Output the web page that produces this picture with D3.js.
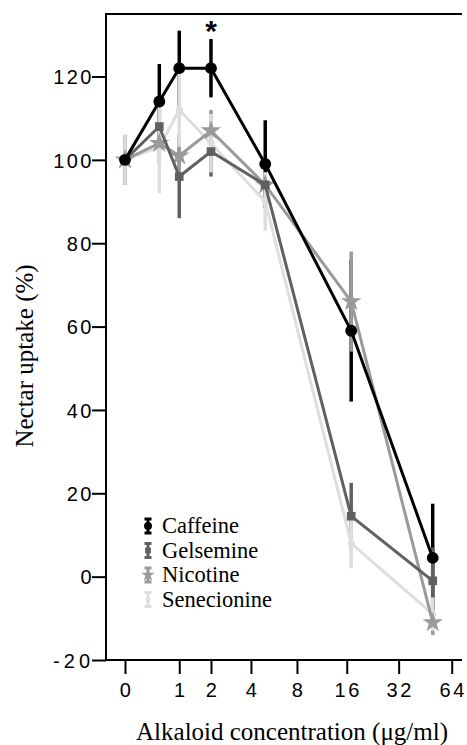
<!DOCTYPE html>
<html>
<head>
<meta charset="utf-8">
<script src="https://cdn.jsdelivr.net/npm/d3@7"></script>
<style>
  body { margin: 0; background: #fff; }
  svg { display: block; }
</style>
</head>
<body>
<div id="content"></div>
<script>
// concentrations (µg/ml) at which uptake was measured
const concentrations = [0, 0.55, 1, 2, 5, 17, 50];
const xTicks = [0, 1, 2, 4, 8, 16, 32, 64];
const yTicks = [-20, 0, 20, 40, 60, 80, 100, 120];

const seriesNames = ['Caffeine', 'Gelsemine', 'Nicotine', 'Senecionine'];
const caffeine = [100, 114, 122, 122, 99, 59, 4.5];
const caffeineErr = [5, 9, 9, 7, 10.5, 17, 13];
const gelsemine = [100, 108, 96, 102, 94, 14.5, -1];
const gelsemineErr = [6, 6, 10, 6, 3, 8, 8];
const nicotine = [100, 104, 101, 107, 94, 66, -11];
const nicotineErr = [5, 5, 5, 5, 3, 12, 3];
const senecionine = [100, 103, 112, 104, 90, 8, -9];
const senecionineErr = [6, 11, 9, 7, 7, 6, 4];

const width = 467;
const height = 745;
const margin = { left: 106, top: 14, right: 462, bottom: 660 };

const colors = ['#000000', '#606060', '#9a9a9a', '#dedede'];
const symbols = [d3.symbolCircle, d3.symbolSquare, d3.symbolStar, d3.symbolDiamond];
const symbolSizes = [110, 75, 130, 55];

const series = seriesNames.map((name, i) => ({
    name,
    color: colors[i],
    symbol: symbols[i],
    size: symbolSizes[i],
    points: concentrations.map((c, j) => ({
        c,
        v: [caffeine, gelsemine, nicotine, senecionine][i][j],
        e: [caffeineErr, gelsemineErr, nicotineErr, senecionineErr][i][j],
    })),
}));

const x = d3.scaleSymlog().constant(1).domain([0, 64]).range([125, 451.7]);
const y = d3.scaleLinear().domain([-20, 135]).range([margin.bottom, margin.top]);

const svg = d3.select('#content').append('svg')
    .attr('width', width)
    .attr('height', height);

// frame: left, top and bottom lines
svg.append('path')
    .attr('d', `M${margin.right},${margin.top}H${margin.left}V${margin.bottom}H${margin.right}`)
    .attr('fill', 'none')
    .attr('stroke', '#000')
    .attr('stroke-width', 2);

const tickFont = g => g
    .style('font-family', '"Liberation Sans", Arial, sans-serif')
    .style('font-size', '20px')
    .style('letter-spacing', '2.5px');

// plain hyphen for negatives, as in the original
const plain = d => String(d);

const yAxis = svg.append('g')
    .attr('transform', `translate(${margin.left},0)`)
    .call(d3.axisLeft(y).tickValues(yTicks).tickFormat(plain).tickSize(14).tickSizeOuter(0).tickPadding(0))
    .call(g => g.select('.domain').remove())
    .call(tickFont);
yAxis.selectAll('line').attr('stroke-width', 2);
yAxis.selectAll('text').attr('fill', '#000').attr('dy', '0.36em').attr('dx', '2px')
    .style('letter-spacing', d => d < 0 ? '4px' : '2.5px');

const xAxis = svg.append('g')
    .attr('transform', `translate(0,${margin.bottom})`)
    .call(d3.axisBottom(x).tickValues(xTicks).tickFormat(plain).tickSize(14).tickSizeOuter(0).tickPadding(9))
    .call(g => g.select('.domain').remove())
    .call(tickFont);
xAxis.selectAll('line').attr('stroke-width', 2);
xAxis.selectAll('text').attr('fill', '#000').attr('dx', '1px');

// axis titles
svg.append('text')
    .attr('x', 292)
    .attr('y', 740)
    .attr('text-anchor', 'middle')
    .style('font-family', '"Liberation Serif", "Times New Roman", serif')
    .style('font-size', '25px')
    .text('Alkaloid concentration (μg/ml)');

svg.append('text')
    .attr('transform', 'translate(33,356) rotate(-90)')
    .attr('text-anchor', 'middle')
    .style('font-family', '"Liberation Serif", "Times New Roman", serif')
    .style('font-size', '25px')
    .text('Nectar uptake (%)');

const plot = svg.append('g');

// error bars first, later series on top
series.forEach(s => {
    plot.append('g')
        .selectAll('line')
        .data(s.points)
        .enter()
        .append('line')
        .attr('x1', d => x(d.c))
        .attr('x2', d => x(d.c))
        .attr('y1', d => y(d.v - d.e))
        .attr('y2', d => y(d.v + d.e))
        .attr('stroke', s.color)
        .attr('stroke-width', 3.5);
});

const line = d3.line().x(d => x(d.c)).y(d => y(d.v));

// lines and markers, caffeine drawn last
series.slice().reverse().forEach(s => {
    plot.append('path')
        .datum(s.points)
        .attr('d', line)
        .attr('fill', 'none')
        .attr('stroke', s.color)
        .attr('stroke-width', 3);
    plot.append('g')
        .selectAll('path')
        .data(s.points)
        .enter()
        .append('path')
        .attr('transform', d => `translate(${x(d.c)},${y(d.v)})`)
        .attr('d', d3.symbol().type(s.symbol).size(s.size))
        .attr('fill', s.color);
});

// significance mark over 2 µg/ml
svg.append('text')
    .attr('x', x(2))
    .attr('y', 41)
    .attr('text-anchor', 'middle')
    .style('font-family', '"Liberation Sans", Arial, sans-serif')
    .style('font-size', '30px')
    .style('font-weight', 'bold')
    .text('*');

// legend
const legend = svg.append('g')
    .attr('transform', 'translate(148,526)');

const legendItem = legend.selectAll('g')
    .data(series)
    .enter()
    .append('g')
    .attr('transform', (d, i) => `translate(0,${i * 24.5})`);

legendItem.append('path')
    .attr('d', 'M-3.5,-7H3.5M0,-7V7M-3.5,7H3.5')
    .attr('fill', 'none')
    .attr('stroke', d => d.color)
    .attr('stroke-width', 3);

legendItem.append('path')
    .attr('d', d => d3.symbol().type(d.symbol).size(d.size * 0.45)())
    .attr('fill', d => d.color);

legendItem.append('text')
    .attr('x', 14)
    .attr('y', 7)
    .attr('fill', '#000')
    .style('font-family', '"Liberation Serif", "Times New Roman", serif')
    .style('font-size', '22.5px')
    .text(d => d.name);
</script>
</body>
</html>
